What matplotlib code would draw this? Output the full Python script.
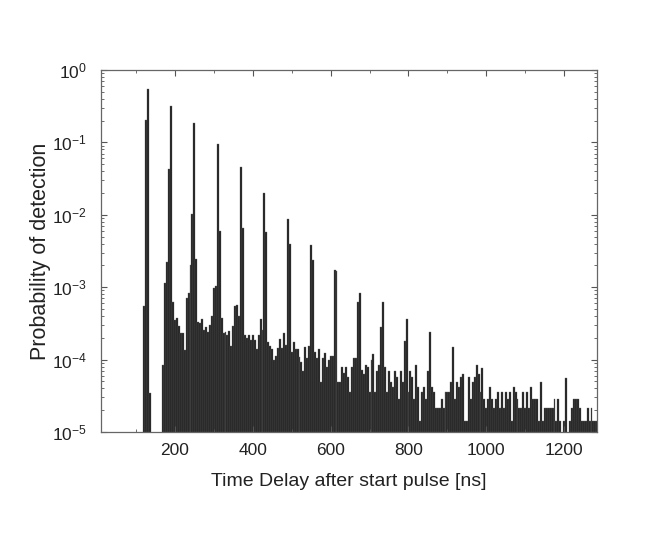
#!/usr/bin/env python3
# -*- coding: utf-8 -*-
"""
Detection probability vs. delay after start pulse (afterpulse histogram, log scale)
"""

import numpy as np
import matplotlib
matplotlib.use('Agg')
import matplotlib.pyplot as plt
from matplotlib.ticker import MultipleLocator, LogLocator, FixedLocator

plt.rcParams['font.family'] = ['Liberation Sans', 'DejaVu Sans']
plt.rcParams['mathtext.fontset'] = 'custom'
plt.rcParams['mathtext.rm'] = 'Liberation Sans'
plt.rcParams['mathtext.default'] = 'regular'

# histogram bins (5 ns wide), first bin centre and width
BIN_START = 120
BIN_WIDTH = 5

# detection probability per bin, 120 ns ... 1285 ns
prob_120_195 = [5.5e-4, 0.204, 0.546, 3.5e-5, 0, 0, 0, 0, 0, 0,
                8.4e-5, 1.13e-3, 2.2e-3, 0.043, 0.318, 6.3e-4]
prob_200_395 = [3.5e-4, 3.8e-4, 2.9e-4, 2.3e-4, 2.3e-4, 1.36e-4, 7.0e-4, 8.2e-4, 2.0e-3, 1.04e-2,
                0.183, 2.45e-3, 3.3e-4, 3.2e-4, 3.6e-4, 2.56e-4, 2.8e-4, 2.4e-4, 3.0e-4, 4.0e-4,
                9.6e-4, 1.04e-3, 0.094, 6.0e-3, 3.7e-4, 2.3e-4, 2.4e-4, 2.2e-4, 2.5e-4, 1.55e-4,
                2.9e-4, 5.5e-4, 5.6e-4, 4.0e-4, 0.0453, 6.6e-3, 2.19e-4, 1.97e-4, 2.19e-4, 1.87e-4]
prob_400_595 = [2.19e-4, 1.87e-4, 1.4e-4, 2.19e-4, 3.6e-4, 2.56e-4, 0.0199, 5.8e-3, 1.77e-4, 1.54e-4,
                1.39e-4, 9.9e-5, 1.12e-4, 1.46e-4, 1.9e-4, 1.43e-4, 2.36e-4, 1.59e-4, 8.85e-3, 4.0e-3,
                1.27e-4, 1.77e-4, 1.4e-4, 1.4e-4, 1.1e-4, 9.35e-5, 7.0e-5, 1.48e-4, 1.04e-4, 1.54e-4,
                3.83e-3, 2.38e-3, 1.27e-4, 1.04e-4, 1.4e-4, 4.95e-5, 1.04e-4, 1.25e-4, 7.8e-5, 9.9e-5]
prob_600_795 = [1.12e-4, 1.12e-4, 1.73e-3, 1.65e-3, 4.95e-5, 4.95e-5, 7.8e-5, 6.5e-5, 7.8e-5, 5.7e-5,
                3.53e-5, 7.8e-5, 1.06e-4, 1.06e-4, 6.2e-4, 8.4e-4, 7.2e-5, 6.3e-5, 8.4e-5, 7.8e-5,
                3.53e-5, 9.9e-5, 1.19e-4, 3.53e-5, 7.0e-5, 8.4e-5, 2.8e-4, 6.2e-4, 7.8e-5, 3.53e-5,
                7.0e-5, 4.95e-5, 4.22e-5, 7.0e-5, 5.69e-5, 2.86e-5, 7.0e-5, 4.95e-5, 1.83e-4, 3.63e-4]
prob_800_995 = [3.53e-5, 7.0e-5, 5.69e-5, 2.86e-5, 8.4e-5, 4.22e-5, 1.42e-5, 3.53e-5, 4.22e-5, 2.86e-5,
                7.0e-5, 2.43e-4, 4.22e-5, 3.53e-5, 2.12e-5, 2.12e-5, 2.12e-5, 2.83e-5, 2.12e-5, 3.53e-5,
                3.53e-5, 3.53e-5, 4.95e-5, 1.48e-4, 2.83e-5, 4.95e-5, 4.22e-5, 5.69e-5, 6.3e-5, 1.42e-5,
                1.42e-5, 5.69e-5, 2.83e-5, 4.95e-5, 5.69e-5, 8.4e-5, 6.3e-5, 3.53e-5, 7.7e-5, 2.83e-5]
prob_1000_1285 = [2.12e-5, 2.83e-5, 4.22e-5, 2.83e-5, 2.12e-5, 2.83e-5, 3.53e-5, 2.12e-5, 3.53e-5, 2.12e-5,
                  3.53e-5, 2.83e-5, 3.53e-5, 1.42e-5, 4.22e-5, 3.53e-5, 2.83e-5, 2.12e-5, 2.12e-5, 3.53e-5,
                  2.12e-5, 3.53e-5, 2.12e-5, 4.22e-5, 2.83e-5, 2.83e-5, 2.83e-5, 1.42e-5, 4.95e-5, 1.42e-5,
                  2.12e-5, 2.12e-5, 2.12e-5, 2.12e-5, 2.12e-5, 2.83e-5, 1.42e-5, 2.83e-5, 1.42e-5, 0,
                  1.42e-5, 5.6e-5, 0, 1.42e-5, 2.12e-5, 2.83e-5, 2.83e-5, 2.83e-5, 2.12e-5, 1.42e-5,
                  1.42e-5, 1.42e-5, 2.12e-5, 1.42e-5, 2.12e-5, 1.42e-5, 1.42e-5, 1.42e-5]

x_ticks = [200, 400, 600, 800, 1000, 1200]
y_ticks = [1e-5, 1e-4, 1e-3, 1e-2, 1e-1, 1e0]
y_tick_labels = [r'$10^{-5}$', r'$10^{-4}$', r'$10^{-3}$', r'$10^{-2}$', r'$10^{-1}$', r'$10^{0}$']


def main():
    prob = np.array(prob_120_195 + prob_200_395 + prob_400_595 +
                    prob_600_795 + prob_800_995 + prob_1000_1285)
    t = BIN_START + BIN_WIDTH * np.arange(len(prob))
    keep = prob > 0

    fig = plt.figure(figsize=(6.64, 5.34), dpi=100)
    ax = fig.add_axes([0.152, 0.191, 0.747, 0.678])

    ax.bar(t[keep], prob[keep], width=BIN_WIDTH, bottom=1e-7,
           color='#1e1e1e', edgecolor='#646464', linewidth=0.25)

    ax.set_yscale('log')
    ax.set_ylim(1e-5, 1e0)
    ax.set_xlim(10, 1284)

    ax.xaxis.set_major_locator(FixedLocator(x_ticks))
    ax.xaxis.set_minor_locator(MultipleLocator(100))
    ax.set_yticks(y_ticks)
    ax.set_yticklabels(y_tick_labels)
    ax.yaxis.set_minor_locator(LogLocator(base=10, subs=np.arange(2, 10)))

    ax.tick_params(which='both', direction='in', top=True, right=True,
                   colors='#555555', labelcolor='#222222')
    ax.tick_params(which='major', length=4, width=0.8, labelsize=12.5)
    ax.tick_params(which='minor', length=2.5, width=0.6)
    ax.tick_params(axis='x', pad=8)
    ax.tick_params(axis='y', pad=10)

    for s in ax.spines.values():
        s.set_color('#666666')
        s.set_linewidth(0.9)

    ax.set_xlabel('Time Delay after start pulse [ns]', fontsize=14, color='#222222', labelpad=11)
    ax.set_ylabel('Probability of detection', fontsize=15.5, color='#222222', labelpad=1)

    fig.savefig('out.png', dpi=100)
    plt.close(fig)


if __name__ == "__main__":
    main()
